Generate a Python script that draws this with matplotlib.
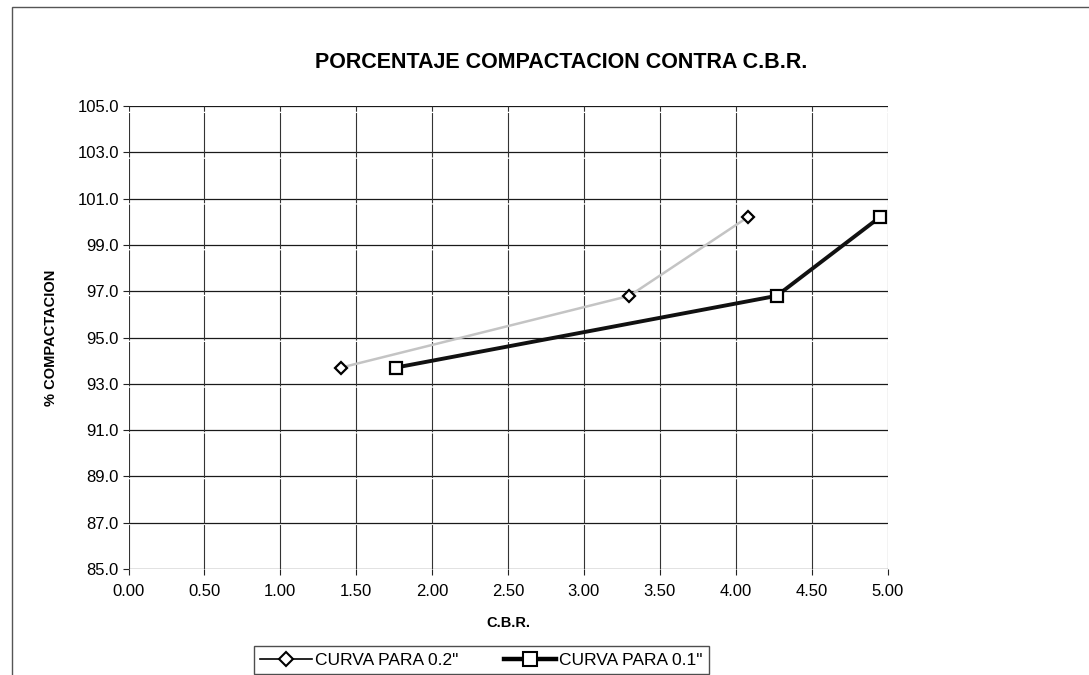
import matplotlib
matplotlib.use("Agg")
import matplotlib.pyplot as plt
from matplotlib.lines import Line2D
from matplotlib.patches import Rectangle

plt.rcParams['font.family'] = ['Liberation Sans', 'DejaVu Sans']

# C.B.R. values and compaction percentages for each penetration curve
cbr_02 = [1.40, 3.30, 4.08]
comp_02 = [93.7, 96.8, 100.2]
cbr_01 = [1.76, 4.27, 4.95]
comp_01 = [93.7, 96.8, 100.2]

x_ticks = [0.00, 0.50, 1.00, 1.50, 2.00, 2.50, 3.00, 3.50, 4.00, 4.50, 5.00]
y_ticks = [85.0, 87.0, 89.0, 91.0, 93.0, 95.0, 97.0, 99.0, 101.0, 103.0, 105.0]

fig = plt.figure(figsize=(10.89, 6.75), dpi=100)
ax = fig.add_axes([0.118, 0.157, 0.697, 0.686])

# outer chart frame
fig.patches.append(Rectangle((0.011, -0.01), 1.0, 1.0 - 0.0104 + 0.01,
                             transform=fig.transFigure, fill=False,
                             edgecolor='#555555', linewidth=1.0))

ax.set_xlim(0, 5)
ax.set_ylim(85, 105)
ax.set_xticks(x_ticks)
ax.set_yticks(y_ticks)
ax.set_xticklabels([f"{v:.2f}" for v in x_ticks], fontsize=12)
ax.set_yticklabels([f"{v:.1f}" for v in y_ticks], fontsize=12)
ax.tick_params(axis='y', length=4, width=0.8, color='#222222', pad=3)
ax.tick_params(axis='x', length=4, width=0.8, color='#222222', pad=7)

for v in y_ticks:
    ax.axhline(v, color='#1a1a1a', linewidth=0.9, zorder=1)
for v in x_ticks:
    ax.axvline(v, color='#333333', linewidth=0.8, linestyle=(0, (40, 1.2)), zorder=1)
for s in ax.spines.values():
    s.set_visible(False)

ax.plot(cbr_02, comp_02, color='#c4c4c4', linewidth=1.8, zorder=3)
ax.plot(cbr_02, comp_02, linestyle='none', marker='D', markersize=6.5,
        markerfacecolor='white', markeredgecolor='black', markeredgewidth=1.6, zorder=4)
ax.plot(cbr_01, comp_01, color='#111111', linewidth=2.8, zorder=3)
ax.plot(cbr_01, comp_01, linestyle='none', marker='s', markersize=9,
        markerfacecolor='white', markeredgecolor='black', markeredgewidth=1.6, zorder=4)

fig.text(0.515, 0.908, "PORCENTAJE COMPACTACION CONTRA C.B.R.", ha='center', va='center',
         fontsize=15.5, fontweight='bold')
ax.set_xlabel("C.B.R.", fontsize=10.5, fontweight='bold', labelpad=12)
ax.set_ylabel("% COMPACTACION", fontsize=10.5, fontweight='bold', labelpad=14)

handles = [
    Line2D([], [], color='black', linewidth=1.2, marker='D', markersize=7,
           markerfacecolor='white', markeredgecolor='black', markeredgewidth=1.5),
    Line2D([], [], color='black', linewidth=3.2, marker='s', markersize=10,
           markerfacecolor='white', markeredgecolor='black', markeredgewidth=1.5),
]
leg = fig.legend(handles, ['CURVA PARA 0.2"', 'CURVA PARA 0.1"'], loc='center',
                 bbox_to_anchor=(0.442, 0.022), ncol=2, fontsize=12.5, frameon=True,
                 fancybox=False, edgecolor='#222222', handlelength=3.0,
                 columnspacing=2.6, borderpad=0.35, handletextpad=0.2)
leg.get_frame().set_linewidth(1.0)

fig.savefig("out.png", dpi=100, facecolor='white')
